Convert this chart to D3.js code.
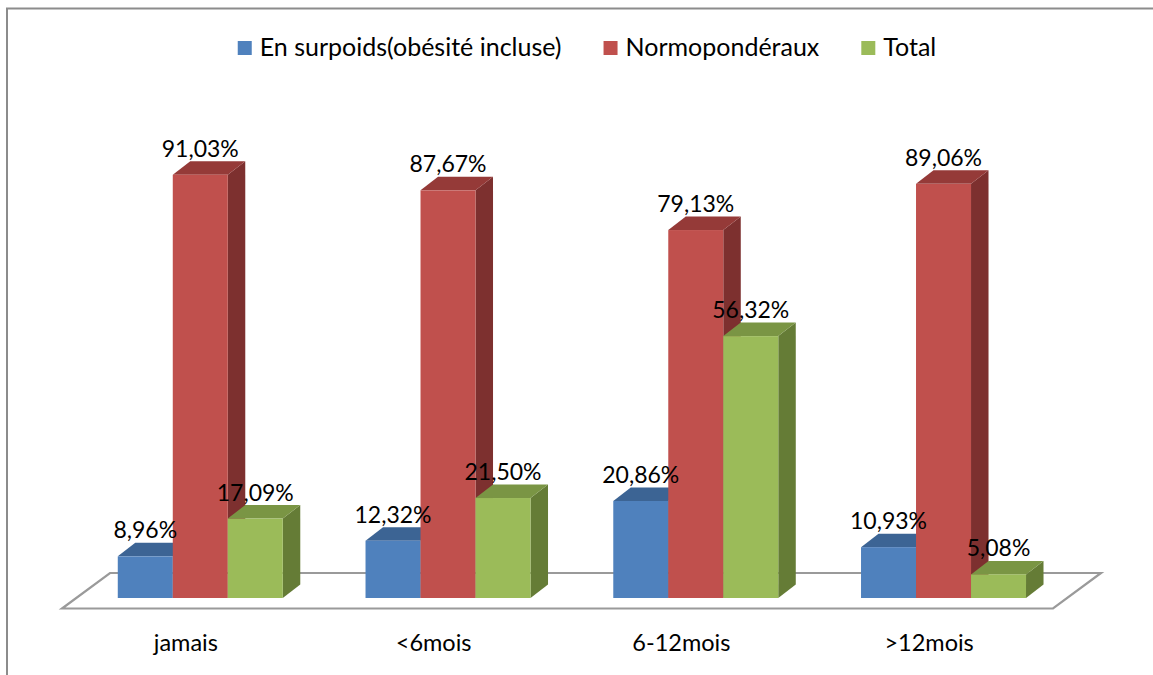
<!DOCTYPE html>
<html>
<head>
<meta charset="utf-8">
<script src="https://cdn.jsdelivr.net/npm/d3@7"></script>
<style>
  html, body { margin: 0; padding: 0; background: #fff; }
  svg { display: block; font-family: Lato, "Open Sans", sans-serif; }
</style>
</head>
<body>
<svg id="chart" width="1153" height="675"></svg>
<script>
// Allaitement duration groups and the share of each weight status
const categories = ["jamais", "<6mois", "6-12mois", ">12mois"];
const seriesNames = ["En surpoids(obésité incluse)", "Normopondéraux", "Total"];
const surpoids = [8.96, 12.32, 20.86, 10.93];
const normo = [91.03, 87.67, 79.13, 89.06];
const total = [17.09, 21.50, 56.32, 5.08];
const seriesValues = [surpoids, normo, total];

// face colours per series: front, top, side
const palette = [
  { front: "#4F81BD", top: "#3C6494", side: "#385D8A" },
  { front: "#C0504D", top: "#953A38", side: "#7D302F" },
  { front: "#9BBB59", top: "#7A9544", side: "#657C36" }
];

const svg = d3.select("#chart");
const W = 1153, H = 675;

svg.append("rect").attr("width", W).attr("height", H).attr("fill", "#fff");

// outer frame (top and left edges fall inside the page)
svg.append("path")
  .attr("d", `M7,${H} L7,8.5 L${W},8.5`)
  .attr("fill", "none")
  .attr("stroke", "#8c8c8c")
  .attr("stroke-width", 2);

// scales
const floorLeft = 62, floorRight = 1053;
const x0 = d3.scaleBand().domain(categories).range([floorLeft, floorRight]);
const groupWidth = 165;
const x1 = d3.scaleBand().domain(d3.range(seriesNames.length)).range([0, groupWidth]);
const y = d3.scaleLinear().domain([0, 100]).range([598, 133]);

// oblique projection of depth
const depthDx = 17.5, depthDy = 13.5;
const frontShiftX = 14.4;          // bar fronts sit behind the floor's front edge
const floorFrontY = y(0) + 10.5;
const floorDx = 48, floorDy = 35.5;

// floor
svg.append("polygon")
  .attr("points", [
    [floorLeft, floorFrontY],
    [floorRight, floorFrontY],
    [floorRight + floorDx, floorFrontY - floorDy],
    [floorLeft + floorDx, floorFrontY - floorDy]
  ].map(p => p.join(",")).join(" "))
  .attr("fill", "#fff")
  .attr("stroke", "#9a9a9a")
  .attr("stroke-width", 2.2)
  .attr("stroke-linejoin", "miter");

// bar records
const bars = [];
categories.forEach((c, ci) => {
  seriesValues.forEach((vals, si) => {
    bars.push({ cat: c, si, value: vals[ci] });
  });
});

const fmt = v => d3.format(".2f")(v).replace(".", ",") + "%";

const barX = d => x0(d.cat) + x0.bandwidth() / 2 - groupWidth / 2 + frontShiftX + x1(d.si);

const g = svg.append("g");
bars.forEach(d => {
  const xl = barX(d), xr = xl + x1.bandwidth();
  const yt = y(d.value), yb = y(0);
  const col = palette[d.si];
  const bg = g.append("g");
  // side face
  bg.append("polygon")
    .attr("points", [[xr, yb], [xr, yt], [xr + depthDx, yt - depthDy], [xr + depthDx, yb - depthDy]].map(p => p.join(",")).join(" "))
    .attr("fill", col.side);
  // top face
  bg.append("polygon")
    .attr("points", [[xl, yt], [xr, yt], [xr + depthDx, yt - depthDy], [xl + depthDx, yt - depthDy]].map(p => p.join(",")).join(" "))
    .attr("fill", col.top);
  // front face
  bg.append("rect")
    .attr("x", xl).attr("y", yt)
    .attr("width", xr - xl).attr("height", yb - yt)
    .attr("fill", col.front);
});

// value labels
svg.append("g").selectAll("text").data(bars).join("text")
  .attr("x", d => barX(d) + x1.bandwidth() / 2)
  .attr("y", d => y(d.value) - depthDy - 4.5)
  .attr("text-anchor", "middle")
  .attr("font-size", 23)
  .attr("fill", "#000")
  .text(d => fmt(d.value));

// category labels
svg.append("g").selectAll("text").data(categories).join("text")
  .attr("x", d => x0(d) + x0.bandwidth() / 2)
  .attr("y", 651)
  .attr("text-anchor", "middle")
  .attr("font-size", 23.5)
  .attr("fill", "#000")
  .text(d => d);

// legend
const legend = svg.append("g");
const items = seriesNames.map((name, i) => {
  const it = legend.append("g");
  it.append("rect").attr("width", 14).attr("height", 14).attr("y", 41).attr("fill", palette[i].front);
  const t = it.append("text").attr("x", 22).attr("y", 56).attr("font-size", 25).attr("fill", "#000").text(name);
  return { it, w: 22 + t.node().getComputedTextLength() };
});
const itemGap = 42;
const totalW = d3.sum(items, d => d.w) + itemGap * (items.length - 1);
let lx = 587 - totalW / 2;
items.forEach(d => {
  d.it.attr("transform", `translate(${lx},0)`);
  lx += d.w + itemGap;
});
</script>
</body>
</html>
